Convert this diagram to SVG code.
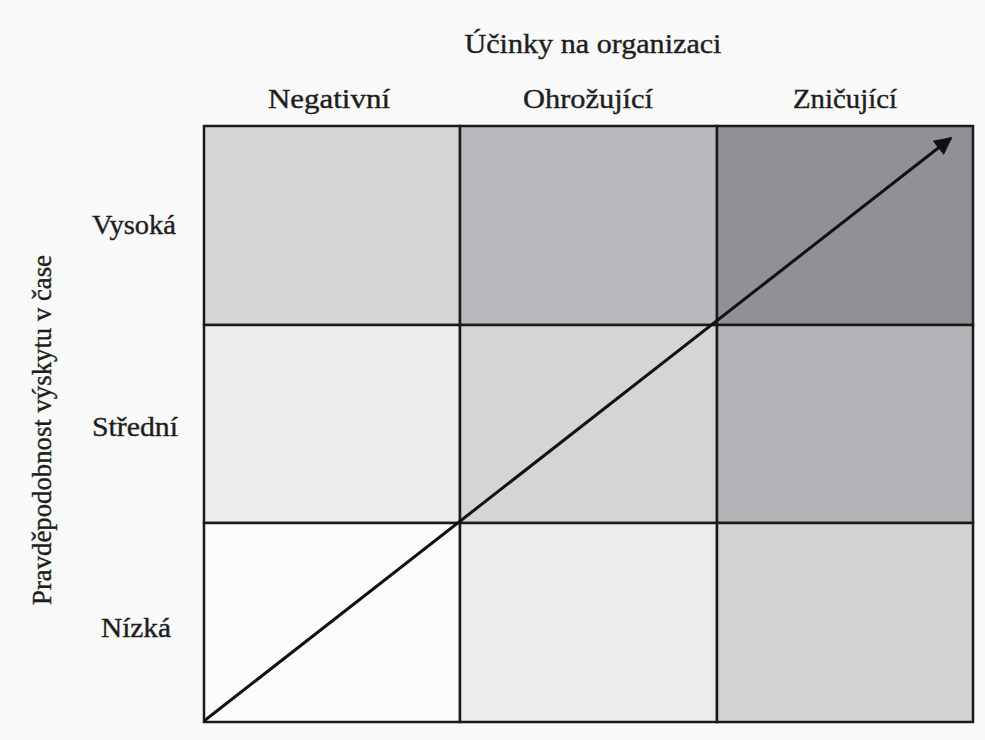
<svg xmlns="http://www.w3.org/2000/svg" width="985" height="740" viewBox="0 0 985 740">
  <defs>
    <style>
      .lbl { font-family: "Liberation Serif", "DejaVu Serif", serif; font-size: 28px; fill: #1e1e1e; stroke: #1e1e1e; stroke-width: 0.4; text-anchor: middle; }
      .cell { stroke: #1a1a1a; stroke-width: 2.5; }
      .conn { stroke: #111; stroke-width: 3; fill: none; }
    </style>
    <marker id="head" viewBox="0 0 10 10" refX="9" refY="5" markerWidth="7" markerHeight="6" orient="auto" markerUnits="strokeWidth">
      <path d="M0,0 L10,5 L0,10 Z" fill="#111"/>
    </marker>
  </defs>
  <rect width="985" height="740" fill="#fafafa"/>

  <!-- axis titles -->
  <text class="lbl" x="593" y="53" textLength="257" lengthAdjust="spacingAndGlyphs">Účinky na organizaci</text>
  <text class="lbl" transform="translate(51,430) rotate(-90)" textLength="350" lengthAdjust="spacingAndGlyphs">Pravděpodobnost výskytu v čase</text>

  <!-- column headers -->
  <text class="lbl" x="329" y="108" textLength="122" lengthAdjust="spacingAndGlyphs">Negativní</text>
  <text class="lbl" x="588" y="108" textLength="130" lengthAdjust="spacingAndGlyphs">Ohrožující</text>
  <text class="lbl" x="845" y="108" textLength="104" lengthAdjust="spacingAndGlyphs">Zničující</text>

  <!-- row headers -->
  <text class="lbl" x="134" y="234" textLength="84" lengthAdjust="spacingAndGlyphs">Vysoká</text>
  <text class="lbl" x="135" y="436" textLength="86" lengthAdjust="spacingAndGlyphs">Střední</text>
  <text class="lbl" x="136" y="637" textLength="70" lengthAdjust="spacingAndGlyphs">Nízká</text>

  <!-- matrix cells -->
  <g id="cell-high-negative"><rect class="cell" x="204" y="126" width="256" height="199" fill="#d6d6d8"/></g>
  <g id="cell-high-threatening"><rect class="cell" x="460" y="126" width="257" height="199" fill="#b9b9bd"/></g>
  <g id="cell-high-destructive"><rect class="cell" x="717" y="126" width="256" height="199" fill="#8f9197"/></g>
  <g id="cell-mid-negative"><rect class="cell" x="204" y="325" width="256" height="198" fill="#ececec"/></g>
  <g id="cell-mid-threatening"><rect class="cell" x="460" y="325" width="257" height="198" fill="#d5d5d7"/></g>
  <g id="cell-mid-destructive"><rect class="cell" x="717" y="325" width="256" height="198" fill="#b5b5b9"/></g>
  <g id="cell-low-negative"><rect class="cell" x="204" y="523" width="256" height="199" fill="#fcfcfc"/></g>
  <g id="cell-low-threatening"><rect class="cell" x="460" y="523" width="257" height="199" fill="#ececec"/></g>
  <g id="cell-low-destructive"><rect class="cell" x="717" y="523" width="256" height="199" fill="#d3d3d5"/></g>

  <!-- rising risk arrow -->
  <g id="connectors">
    <line class="conn" x1="204" y1="721" x2="951" y2="138" marker-end="url(#head)"/>
  </g>
</svg>
